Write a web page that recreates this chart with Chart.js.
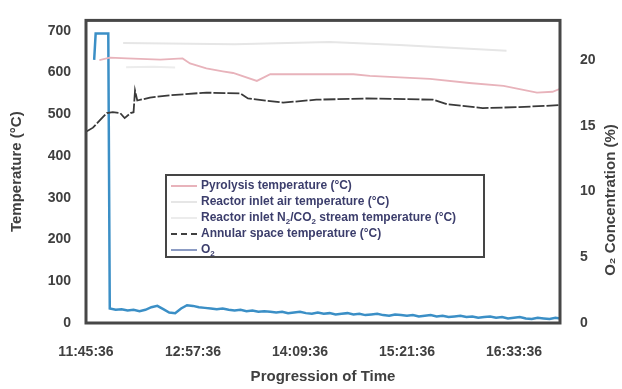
<!DOCTYPE html>
<html>
<head>
<meta charset="utf-8">
<script src="https://cdn.jsdelivr.net/npm/chart.js@4.4.1/dist/chart.umd.min.js"></script>
<style>
  body { margin: 0; background: #fff; }
  #wrap { position: relative; width: 622px; height: 389px; }
  #legend {
    position: absolute; left: 165px; top: 174px; width: 320px; height: 84px;
    border: 2px solid #454545; background: #fff; box-sizing: border-box;
    padding: 1px 0 0 4px;
    font: bold 12px "Liberation Sans", Arial, sans-serif; color: #3c3e6c;
  }
  #legend .row { height: 16px; line-height: 16px; white-space: nowrap; }
  #legend .swatch { display: inline-block; width: 26px; vertical-align: middle; margin-right: 4px; }
  #legend sub { font-size: 8px; }
</style>
</head>
<body>
<div id="wrap">
  <canvas id="tempChart" width="622" height="389"></canvas>
  <div id="legend">
    <div class="row"><span class="swatch" style="border-top:2px solid #e8b3bb"></span>Pyrolysis temperature (°C)</div>
    <div class="row"><span class="swatch" style="border-top:2px solid #e6e6e6"></span>Reactor inlet air temperature (°C)</div>
    <div class="row"><span class="swatch" style="border-top:2px solid #ececec"></span>Reactor inlet N<sub>2</sub>/CO<sub>2</sub> stream temperature (°C)</div>
    <div class="row"><span class="swatch" style="border-top:2px dashed #404040"></span>Annular space temperature (°C)</div>
    <div class="row"><span class="swatch" style="border-top:2px solid #8c9cc4"></span>O<sub>2</sub></div>
  </div>
</div>
<script>
// x axis in minutes after 11:45:36
const timeTicks = [0, 72, 144, 216, 288];
const timeLabels = ['11:45:36', '12:57:36', '14:09:36', '15:21:36', '16:33:36'];
const tempTicks = [0, 100, 200, 300, 400, 500, 600, 700];
const o2Ticks = [0, 5, 10, 15, 20];

const pyroMinutes = [9, 16, 27.6, 50, 65, 70, 81, 92, 99, 115, 124, 137, 180, 191, 231.5, 258, 281, 303.5, 314, 319];
const pyroTemp = [630, 636, 634, 631, 634, 622, 610, 603, 599, 580, 596, 596, 596, 592, 585, 575, 568, 552, 554, 561];

const airMinutes = [25, 100, 164, 211, 283];
const airTemp = [671, 668, 673, 666, 652];

const streamMinutes = [27, 45, 60];
const streamTemp = [613, 614, 612];

const annMinutes = [0, 4.7, 9.4, 14, 18, 23, 26, 30, 32, 33, 34.5, 43, 54.5, 81, 104, 109, 132.6, 155, 189, 233.5, 243, 267, 290, 319];
const annTemp = [458, 468, 486, 503, 505, 503, 491, 503, 505, 557, 533, 540, 545, 552, 550, 538, 528, 535, 538, 535, 524, 515, 517, 522];

const o2Minutes = [5.5, 6.5, 15, 16, 20, 24, 28, 32, 36, 40, 44, 48, 52, 56, 60, 64, 68, 72, 76, 80, 84, 88, 92, 96,
  100, 104, 108, 112, 116, 120, 124, 128, 132, 136, 140, 144, 148, 152, 156, 160, 164, 168, 172, 176, 180, 184,
  188, 192, 196, 200, 204, 208, 212, 216, 220, 224, 228, 232, 236, 240, 244, 248, 252, 256, 260, 264, 268, 272,
  276, 280, 284, 288, 292, 296, 300, 304, 308, 312, 316, 319];
const o2Conc = [20.0, 22.0, 22.0, 1.1, 1.0, 1.05, 0.95, 1.0, 0.9, 1.0, 1.2, 1.3, 1.05, 0.8, 0.75, 1.1, 1.35, 1.3, 1.2, 1.15, 1.1, 1.05, 1.1, 1.0,
  0.95, 1.0, 0.9, 0.95, 0.85, 0.9, 0.85, 0.8, 0.85, 0.75, 0.8, 0.85, 0.75, 0.7, 0.8, 0.7, 0.75, 0.65, 0.7, 0.75, 0.65, 0.7,
  0.6, 0.65, 0.7, 0.6, 0.55, 0.65, 0.6, 0.55, 0.6, 0.5, 0.55, 0.6, 0.5, 0.55, 0.45, 0.5, 0.55, 0.45, 0.5, 0.4, 0.45, 0.5,
  0.4, 0.45, 0.35, 0.4, 0.45, 0.35, 0.3, 0.4, 0.35, 0.3, 0.4, 0.35];

function pairs(xs, ys) {
  return xs.map((x, i) => ({ x: x, y: ys[i] }));
}

const tickFont = { family: 'Liberation Sans', size: 14, weight: 'bold' };
const titleFont = { family: 'Liberation Sans', size: 15, weight: 'bold' };

// frame around plot area + right axis title (reads bottom to top)
const framePlugin = {
  id: 'frame',
  afterDatasetsDraw(chart) {
    const { ctx, chartArea: a } = chart;
    ctx.save();
    ctx.strokeStyle = '#474747';
    ctx.lineWidth = 3;
    ctx.strokeRect(a.left, a.top, a.right - a.left, a.bottom - a.top);
    ctx.restore();
  },
  afterDraw(chart) {
    const ctx = chart.ctx;
    ctx.save();
    ctx.translate(611, 200);
    ctx.rotate(-Math.PI / 2);
    ctx.fillStyle = '#404040';
    ctx.font = 'bold 15px "Liberation Sans"';
    ctx.textAlign = 'center';
    ctx.textBaseline = 'middle';
    ctx.fillText('O₂ Concentration (%)', 0, 0);
    ctx.restore();
  }
};

new Chart(document.getElementById('tempChart'), {
  type: 'line',
  data: {
    datasets: [
      { label: 'Reactor inlet air temperature (°C)', data: pairs(airMinutes, airTemp), yAxisID: 'y',
        borderColor: '#e6e6e6', borderWidth: 2 },
      { label: 'Reactor inlet N2/CO2 stream temperature (°C)', data: pairs(streamMinutes, streamTemp), yAxisID: 'y',
        borderColor: '#ececec', borderWidth: 2 },
      { label: 'Pyrolysis temperature (°C)', data: pairs(pyroMinutes, pyroTemp), yAxisID: 'y',
        borderColor: '#e8b3bb', borderWidth: 1.8 },
      { label: 'Annular space temperature (°C)', data: pairs(annMinutes, annTemp), yAxisID: 'y',
        borderColor: '#3a3a3a', borderWidth: 1.8, borderDash: [12, 2] },
      { label: 'O2', data: pairs(o2Minutes, o2Conc), yAxisID: 'y1',
        borderColor: '#3b8fc6', borderWidth: 2.5 }
    ]
  },
  options: {
    responsive: false,
    animation: false,
    layout: { padding: { top: 13 } },
    elements: { point: { radius: 0 }, line: { tension: 0 } },
    plugins: { legend: { display: false }, tooltip: { enabled: false } },
    scales: {
      x: {
        type: 'linear', min: 0, max: 319,
        afterBuildTicks: (s) => { s.ticks = timeTicks.map(v => ({ value: v })); },
        afterFit: (s) => { s.height = 66; },
        ticks: { font: tickFont, color: '#404040', padding: 13, maxRotation: 0,
          callback: (v) => timeLabels[timeTicks.indexOf(v)] },
        grid: { display: false }, border: { display: false },
        title: { display: true, text: 'Progression of Time', font: titleFont, color: '#404040', padding: { top: 0, bottom: 3 } }
      },
      y: {
        position: 'left', min: 0, max: 725,
        afterBuildTicks: (s) => { s.ticks = tempTicks.map(v => ({ value: v })); },
        afterFit: (s) => { s.width = 86; },
        ticks: { font: tickFont, color: '#404040', padding: 7 },
        grid: { display: false }, border: { display: false },
        title: { display: true, text: 'Temperature (°C)', font: titleFont, color: '#404040', padding: { top: 8, bottom: 0 } }
      },
      y1: {
        position: 'right', min: 0, max: 23,
        afterBuildTicks: (s) => { s.ticks = o2Ticks.map(v => ({ value: v })); },
        afterFit: (s) => { s.width = 62; },
        ticks: { font: tickFont, color: '#404040', padding: 12 },
        grid: { display: false }, border: { display: false }
      }
    }
  },
  plugins: [framePlugin]
});
</script>
</body>
</html>
